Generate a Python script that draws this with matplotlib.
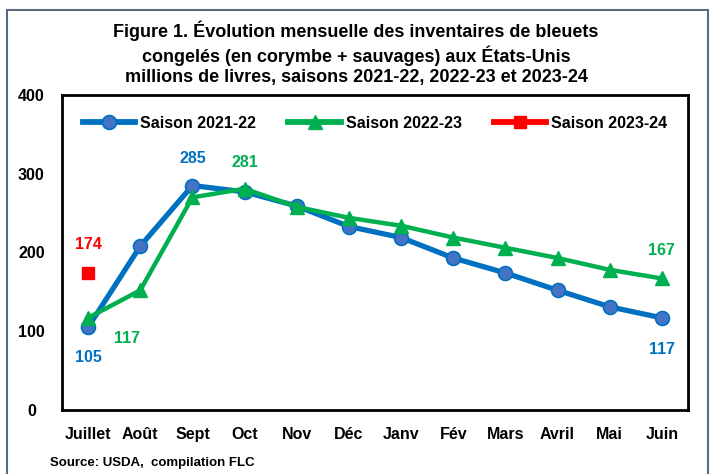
import matplotlib
matplotlib.use("Agg")
import matplotlib.pyplot as plt
from matplotlib.patches import Rectangle

plt.rcParams['font.family'] = ['Liberation Sans', 'DejaVu Sans']
plt.rcParams['font.weight'] = 'bold'

months = ["Juillet", "Août", "Sept", "Oct", "Nov", "Déc", "Janv", "Fév", "Mars", "Avril", "Mai", "Juin"]
s2122 = [105, 208, 285, 277, 259, 233, 219, 193, 174, 152, 131, 117]
s2223 = [117, 152, 270, 281, 258, 244, 234, 219, 206, 193, 178, 167]
s2324 = [174]
yticks = [0, 100, 200, 300, 400]

BLUE = "#0070C0"
BLUE_FILL = "#4472C4"
GREEN = "#00B050"
RED = "#FF0000"

fig = plt.figure(figsize=(7.12, 4.74), dpi=100)
fig.patches.append(Rectangle((7/712, -0.01), 701/712, 1 - 10/474 + 0.01, transform=fig.transFigure,
                             fill=False, edgecolor="#5B6B7F", linewidth=1.5))

ax = fig.add_axes([62/712, 64/474, 626/712, 315/474])
x = list(range(len(months)))
ax.plot(x, s2122, color=BLUE, lw=3.8, marker='o', ms=10, mfc=BLUE_FILL, mec=BLUE, mew=1.2,
        label="Saison 2021-22", zorder=3)
ax.plot(x, s2223, color=GREEN, lw=3.2, marker='^', ms=10.5, mfc=GREEN, mec=GREEN,
        label="Saison 2022-23", zorder=4)
ax.plot(x[:len(s2324)], s2324, color=RED, lw=3.2, marker='s', ms=9, mfc=RED, mec=RED,
        label="Saison 2023-24", zorder=5)

ax.set_xlim(-0.5, 11.5)
ax.set_ylim(0, 400)
ax.set_yticks(yticks)
ax.set_xticks(x)
ax.set_xticklabels(months)
ax.tick_params(axis='both', length=0, labelsize=11.5, pad=12)
ax.tick_params(axis='y', pad=22)
for lab in ax.get_yticklabels():
    lab.set_horizontalalignment('center')
for sp in ax.spines.values():
    sp.set_linewidth(2)
    sp.set_color('black')

lbl = dict(fontsize=11.5, fontweight='bold', ha='center', va='center')
ax.text(0, s2122[0] - 38, str(s2122[0]), color=BLUE, **lbl)
ax.text(0.75, s2223[0] - 26, str(s2223[0]), color=GREEN, **lbl)
ax.text(2, s2122[2] + 34, str(s2122[2]), color=BLUE, **lbl)
ax.text(3, s2223[3] + 33, str(s2223[3]), color=GREEN, **lbl)
ax.text(0, s2324[0] + 36, str(s2324[0]), color=RED, **lbl)
ax.text(11, s2122[11] - 40, str(s2122[11]), color=BLUE, **lbl)
ax.text(11, s2223[11] + 35, str(s2223[11]), color=GREEN, **lbl)

leg = ax.legend(loc='upper center', bbox_to_anchor=(0.5, 0.98), ncol=3, frameon=False,
                handlelength=3.3, columnspacing=2.0, handletextpad=0.3, fontsize=11.5)
for h in leg.get_lines():
    h.set_linewidth(4.2)

fig.text(0.5, 0.957, "Figure 1. Évolution mensuelle des inventaires de bleuets\n"
                     "congelés (en corymbe + sauvages) aux États-Unis\n"
                     "millions de livres, saisons 2021-22, 2022-23 et 2023-24",
         ha='center', va='top', fontsize=13, fontweight='bold', linespacing=1.25)
fig.text(50/712, 1 - 463/474, "Source: USDA,  compilation FLC", ha='left', va='center',
         fontsize=9.5, fontweight='bold')

fig.savefig("out.png", dpi=100)
